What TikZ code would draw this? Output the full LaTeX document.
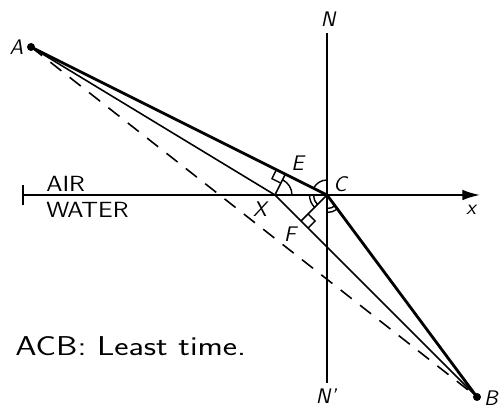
\documentclass[tikz,border=0pt]{standalone}
\usepackage{graphicx}
\usepackage{tikz}
\usetikzlibrary{calc,angles,arrows.meta}
\tikzset{
  lbl/.style={font=\sffamily\itshape\fontsize{12}{14}\selectfont, inner sep=1pt},
  medium/.style={font=\sffamily\fontsize{12.5}{15}\selectfont, inner sep=0pt},
  ray/.style={line width=1.6pt, line join=round},
  thinray/.style={line width=0.9pt},
  axis/.style={line width=1pt},
  rmark/.style={line width=0.8pt},
  ang/.style={draw, line width=0.8pt, angle radius=0.3cm},
}

\begin{document}
\begin{tikzpicture}
    \useasboundingbox (-6.54,-4.28) rectangle (3.5,3.9);
    \coordinate (C) at (0,0);
    \coordinate (A) at (-5.92,2.96);
    \coordinate (B) at (3.0,-4.04);
    \coordinate (X) at (-1.04,0);
    \coordinate (E) at ($(A)!(X)!(C)$);
    \coordinate (F) at ($(X)!(C)!(B)$);
    \coordinate (Ntop) at (0,3.24);
    \coordinate (Nbot) at (0,-3.76);
    \coordinate (xl) at (-6.1,0);
    \coordinate (xr) at (3.06,0);
    % surface and normal
    \draw[axis, {Bar[width=11pt]}-{Latex[length=10pt,width=6pt]}] (xl) -- (xr);
    \draw[axis] (Nbot) -- (Ntop);
    % paths from A to B
    \draw[thinray, dash pattern=on 8pt off 6pt] (A) -- (B);
    \draw[thinray] (A) -- (X) -- (B);
    \draw[ray] (A) -- (C) -- (B);
    \draw[thinray] (X) -- (E);
    \draw[thinray] (C) -- (F);
    \fill (A) circle (0.08);
    \fill (B) circle (0.08);
    % right angles
    \coordinate (Ea) at ($(E)!0.2cm!(A)$);
    \coordinate (Ex) at ($(E)!0.2cm!(X)$);
    \draw[rmark] (Ea) -- ($(Ea)+(Ex)-(E)$) -- (Ex);
    \coordinate (Fc) at ($(F)!0.2cm!(C)$);
    \coordinate (Fb) at ($(F)!0.2cm!(B)$);
    \draw[rmark] (Fc) -- ($(Fc)+(Fb)-(F)$) -- (Fb);
    % angles
    \pic[ang, angle radius=0.34cm] {angle = C--X--E};
    \pic[ang] {angle = Ntop--C--A};
    \pic[ang, angle radius=0.27cm] {angle = X--C--F};
    \pic[ang, angle radius=0.35cm] {angle = X--C--F};
    \pic[ang, angle radius=0.27cm] {angle = Nbot--C--B};
    \pic[ang, angle radius=0.35cm] {angle = Nbot--C--B};
    % labels
    \node[lbl] (lA) at (-6.21,2.95) {A};
    \node[lbl] (lB) at (3.28,-4.07) {B};
    \node[lbl] (lN) at (0.02,3.51) {N};
    \node[lbl] (lNp) at (-0.02,-4.03) {N'};
    \node[lbl] (lx) at (2.88,-0.30) {x};
    \node[lbl] (lE) at (-0.59,0.64) {E};
    \node[lbl] (lC) at (0.26,0.21) {C};
    \node[lbl] (lX) at (-1.34,-0.28) {X};
    \node[lbl] (lF) at (-0.74,-0.79) {F};
    \node[medium, anchor=west] (air) at (-5.62,0.22) {\scalebox{1.14}[1]{AIR}};
    \node[medium, anchor=west] (water) at (-5.62,-0.29) {\scalebox{1.14}[1]{WATER}};
    \node[font=\sffamily\fontsize{15.5}{19}\selectfont, inner sep=0pt, anchor=base west] (caption) at (-6.24,-3.22) {\scalebox{1.25}[1]{ACB: Least time.}};
\end{tikzpicture}
\end{document}
